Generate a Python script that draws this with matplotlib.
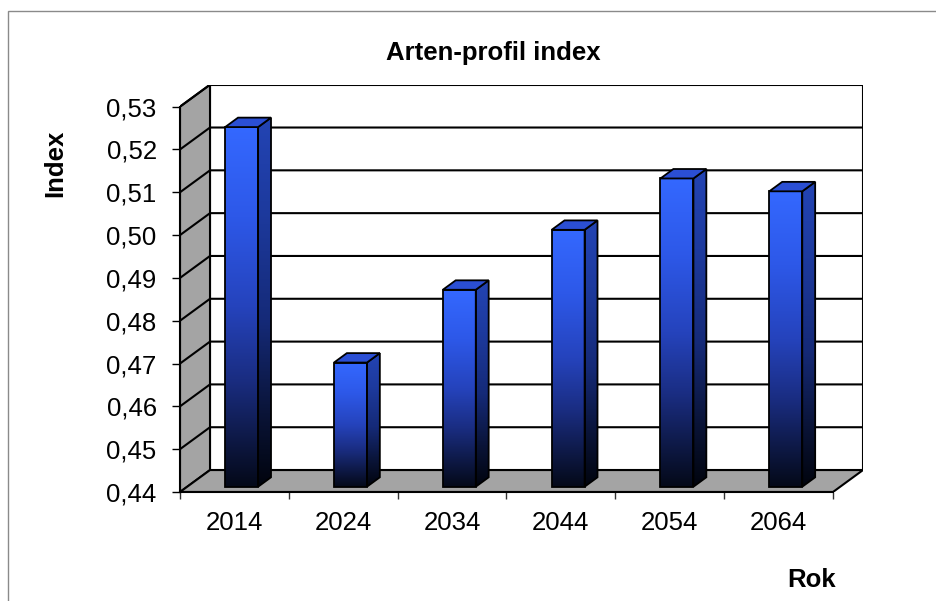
import numpy as np
import matplotlib
matplotlib.use("Agg")
import matplotlib.pyplot as plt
from matplotlib.patches import Polygon, Rectangle
from matplotlib.colors import LinearSegmentedColormap

plt.rcParams['font.family'] = ['Liberation Sans', 'DejaVu Sans']

# ---- data ----
years = ["2014", "2024", "2034", "2044", "2054", "2064"]
index_values = [0.524, 0.469, 0.486, 0.500, 0.512, 0.509]
y_ticks = [0.44, 0.45, 0.46, 0.47, 0.48, 0.49, 0.50, 0.51, 0.52, 0.53]
y_tick_labels = ["0,44", "0,45", "0,46", "0,47", "0,48", "0,49", "0,50", "0,51", "0,52", "0,53"]
title = "Arten-profil index"
x_title = "Rok"
y_title = "Index"

# ---- oblique 3D look ----
W, H, DPI = 936, 601, 100
n = len(years)
Y0, Y1 = y_ticks[0], y_ticks[-1]
DX = 0.2757        # depth offset along x (category units)
DY = 0.005128      # depth offset along y (value units)
BAR_W = 0.303
D_FRONT, D_BACK = 0.24, 0.67
FS = 18.5

fig = plt.figure(figsize=(W / DPI, H / DPI), dpi=DPI)
fig.patch.set_facecolor("white")

left_px, right_px, bottom_px, top_px = 180, 863, 492, 84.7
ax = fig.add_axes([left_px / W, 1 - bottom_px / H,
                   (right_px - left_px) / W, (bottom_px - top_px) / H])
ax.set_facecolor("none")

def proj(x, v, d):
    return (x + d * DX, v + d * DY)

LW = 1.5
wall_gray = "#a4a4a4"

# back wall
back = Polygon([proj(0, Y0, 1), proj(n, Y0, 1), proj(n, Y1, 1), proj(0, Y1, 1)],
               closed=True, facecolor="white", edgecolor="black", lw=LW, zorder=1)
ax.add_patch(back)
# left wall
lwall = Polygon([proj(0, Y0, 0), proj(0, Y1, 0), proj(0, Y1, 1), proj(0, Y0, 1)],
                closed=True, facecolor=wall_gray, edgecolor="black", lw=LW, zorder=1)
ax.add_patch(lwall)
# floor
floor = Polygon([proj(0, Y0, 0), proj(n, Y0, 0), proj(n, Y0, 1), proj(0, Y0, 1)],
                closed=True, facecolor=wall_gray, edgecolor="black", lw=LW, zorder=1.5)
ax.add_patch(floor)

# gridlines on back and left walls
for v in y_ticks[1:]:
    a, b, c = proj(0, v, 0), proj(0, v, 1), proj(n, v, 1)
    ax.plot([a[0], b[0], c[0]], [a[1], b[1], c[1]], color="black", lw=LW,
            zorder=1.2, solid_capstyle="butt")

# bars
front_cmap = LinearSegmentedColormap.from_list(
    "front", [(0.0, "#040918"), (0.15, "#0f1b4c"), (0.3, "#1a2d82"),
              (0.5, "#2543bc"), (0.75, "#2d58e8"), (1.0, "#3468ff")])
side_cmap = LinearSegmentedColormap.from_list(
    "side", [(0.0, "#01040d"), (0.2, "#0a1438"), (0.45, "#152a78"),
             (0.75, "#1d3a9e"), (1.0, "#2344b4")])
top_color = "#2b4fd4"
grad = np.linspace(0, 1, 256).reshape(-1, 1)

for i, val in enumerate(index_values):
    cx = i + 0.5
    x0f, yb = proj(cx - BAR_W / 2, Y0, D_FRONT)
    x1f, yt = proj(cx + BAR_W / 2, val, D_FRONT)
    bdx = (D_BACK - D_FRONT) * DX
    bdy = (D_BACK - D_FRONT) * DY
    # front face
    ax.imshow(grad, cmap=front_cmap, origin="lower", aspect="auto",
              extent=[x0f, x1f, yb, yt], interpolation="bilinear", zorder=3)
    ax.add_patch(Rectangle((x0f, yb), x1f - x0f, yt - yb, fill=False,
                           edgecolor="black", lw=1.3, zorder=3.5))
    # side face
    side_pts = [(x1f, yb), (x1f + bdx, yb + bdy), (x1f + bdx, yt + bdy), (x1f, yt)]
    side = Polygon(side_pts, closed=True, facecolor="none", edgecolor="black",
                   lw=1.3, zorder=3.5)
    im = ax.imshow(grad, cmap=side_cmap, origin="lower", aspect="auto",
                   extent=[x1f, x1f + bdx, yb, yt + bdy], interpolation="bilinear",
                   zorder=3)
    clip = Polygon(side_pts, closed=True, transform=ax.transData)
    im.set_clip_path(clip)
    ax.add_patch(side)
    # top face
    top_pts = [(x0f, yt), (x1f, yt), (x1f + bdx, yt + bdy), (x0f + bdx, yt + bdy)]
    ax.add_patch(Polygon(top_pts, closed=True, facecolor=top_color,
                         edgecolor="black", lw=1.3, zorder=3.5))

ax.set_xlim(0, n + DX)
ax.set_ylim(Y0, Y1 + DY)

# axes
for s in ("top", "right"):
    ax.spines[s].set_visible(False)
ax.spines["left"].set_bounds(Y0, Y1)
ax.spines["bottom"].set_bounds(0, n)
ax.spines["left"].set_linewidth(LW)
ax.spines["bottom"].set_linewidth(LW)
ax.spines["left"].set_zorder(4)
ax.spines["bottom"].set_zorder(4)

ax.set_yticks(y_ticks)
ax.set_yticklabels(y_tick_labels, fontsize=FS)
ax.tick_params(axis="y", direction="out", length=5.8, width=1, pad=11)

ax.set_xticks(np.arange(n + 1))
ax.set_xticklabels([])
ax.set_xticks(np.arange(n) + 0.5, minor=True)
ax.set_xticklabels(years, minor=True, fontsize=FS)
ax.tick_params(axis="x", which="major", direction="out", length=5, width=1, color="#333333")
ax.tick_params(axis="x", which="minor", length=0, pad=14)

# titles
fig.text(493 / W, 1 - 53 / H, title, fontsize=FS, fontweight="bold",
         ha="center", va="center")
fig.text(55 / W, 1 - 163 / H, y_title, fontsize=FS, fontweight="bold",
         ha="center", va="center", rotation=90)
fig.text(812 / W, 1 - 580 / H, x_title, fontsize=FS, fontweight="bold",
         ha="center", va="center")

# chart-area frame
fig.add_artist(Rectangle((8 / W, -0.1), 2, 1 - 11 / H + 0.1, transform=fig.transFigure,
                         fill=False, edgecolor="#8a8a8a", lw=1.0))

fig.savefig("out.png", dpi=DPI, facecolor="white")
